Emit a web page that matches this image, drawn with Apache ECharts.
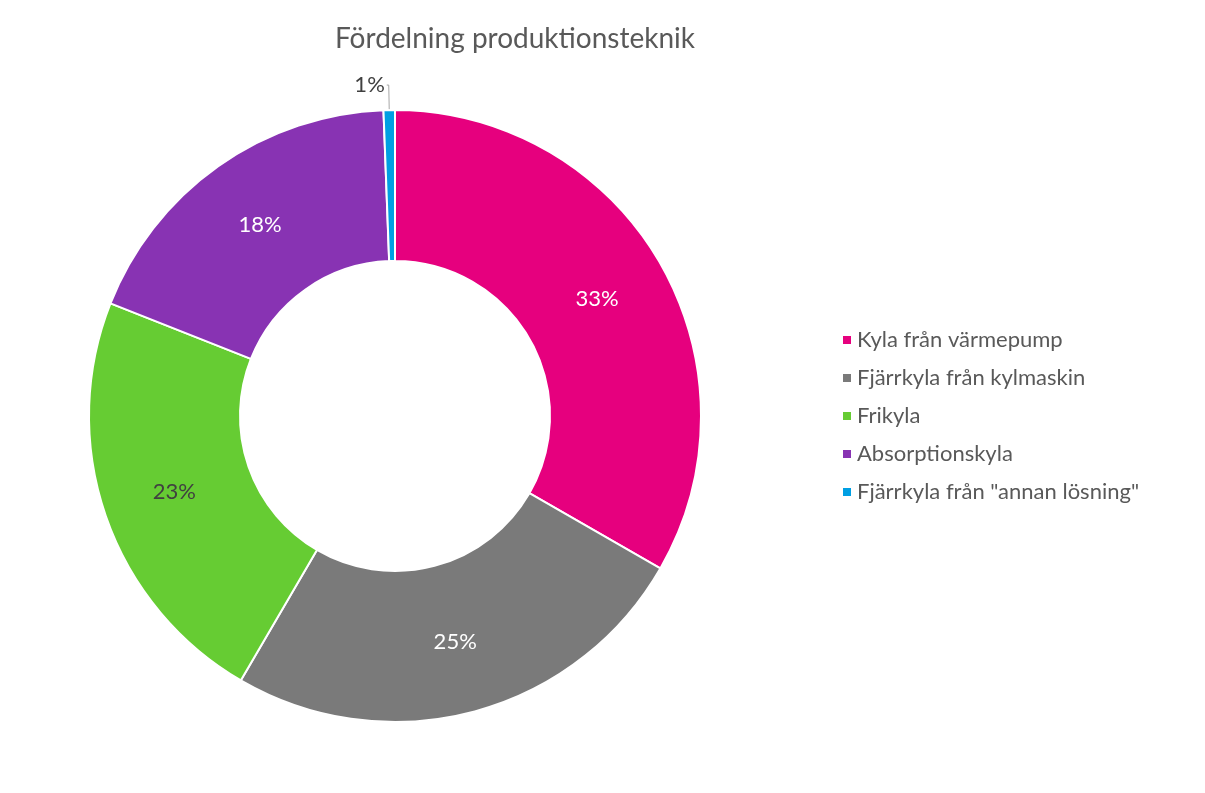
<!DOCTYPE html>
<html>
<head>
<meta charset="utf-8">
<script src="https://cdn.jsdelivr.net/npm/echarts@6/dist/echarts.min.js"></script>
<style>html,body{margin:0;padding:0;background:#fff}#c{width:1205px;height:793px}</style>
</head>
<body>
<div id="c"></div>
<script>
var categories = ['Kyla från värmepump', 'Fjärrkyla från kylmaskin', 'Frikyla', 'Absorptionskyla', 'Fjärrkyla från "annan lösning"'];
var values = [33.3, 25.1, 22.6, 18.4, 0.6];
var colors = ['#E6007E', '#7A7A7A', '#66CC33', '#8833B3', '#009FE3'];
var labelColors = ['#ffffff', '#ffffff', '#404040', '#ffffff', '#404040'];

var font = 'Lato, "Open Sans", sans-serif';
var data = categories.map(function (name, i) {
  var item = { name: name, value: values[i], itemStyle: { color: colors[i] },
    label: { color: labelColors[i] } };
  if (i === categories.length - 1) {
    item.label = { position: 'outside', color: '#404040', distanceToLabelLine: 2 };
    item.labelLine = { show: true, length: 25, length2: 2, lineStyle: { color: '#A6A6A6', width: 1 } };
  }
  return item;
});

var chart = echarts.init(document.getElementById('c'));
chart.setOption({
  animation: false,
  title: { text: 'Fördelning produktionsteknik', left: 510, top: 20, textAlign: 'center',
    textStyle: { fontFamily: font, fontSize: 28, fontWeight: 'normal', color: '#595959' } },
  legend: {
    orient: 'vertical', left: 836, top: 323, itemWidth: 10, itemHeight: 10, itemGap: 14,
    icon: 'rect',
    textStyle: { fontFamily: font, fontSize: 22, color: '#595959', lineHeight: 24 },
    data: categories
  },
  series: [{
    type: 'pie',
    center: [395, 416],
    radius: [155, 306],
    startAngle: 90,
    clockwise: true,
    avoidLabelOverlap: false,
    itemStyle: { borderColor: '#ffffff', borderWidth: 2 },
    label: { show: true, position: 'inside', fontFamily: font, fontSize: 22,
      formatter: function (p) { return Math.round(p.percent) + '%'; } },
    labelLine: { show: false },
    emphasis: { disabled: true },
    data: data
  }]
});
</script>
</body>
</html>
